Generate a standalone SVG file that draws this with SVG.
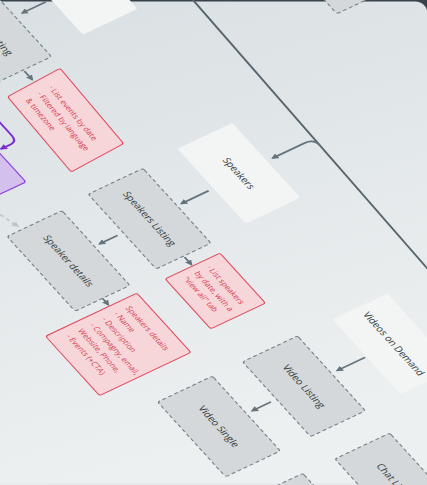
<svg xmlns="http://www.w3.org/2000/svg" width="427" height="485" viewBox="0 0 427 485">
<defs>
<linearGradient id="bg" x1="0" y1="0" x2="0.25" y2="1">
<stop offset="0" stop-color="#d9e0e3"/>
<stop offset="1" stop-color="#edf0f1"/>
</linearGradient>
<marker id="ah" viewBox="0 0 10 10" refX="8" refY="5" markerWidth="3.6" markerHeight="3.6" orient="auto" markerUnits="strokeWidth">
<path d="M0,0 L10,5 L0,10 Z" fill="#65737b"/>
</marker>
<marker id="ahp" viewBox="0 0 10 10" refX="8" refY="5" markerWidth="3.4" markerHeight="3.4" orient="auto" markerUnits="strokeWidth">
<path d="M0,0 L10,5 L0,10 Z" fill="#7b2fd3"/>
</marker>
<marker id="ahl" viewBox="0 0 10 10" refX="8" refY="5" markerWidth="3.6" markerHeight="3.6" orient="auto" markerUnits="strokeWidth">
<path d="M0,0 L10,5 L0,10 Z" fill="#bcc6cb"/>
</marker>
<style>
.gbox{fill:#d4d8da;stroke:#74818a;stroke-width:1.5;stroke-dasharray:5 3.5}
.wbox{fill:#f3f4f4}
.pbox{fill:#d3c0ec;stroke:#8e43d8;stroke-width:1.6}
.note{fill:#f7d6da;stroke:#e04a5f;stroke-width:1.4}
.lbl{font-family:"Open Sans","DejaVu Sans",sans-serif;font-size:12.8px;fill:#343c41;text-anchor:middle;dominant-baseline:central}
.nt{font-family:"Open Sans","DejaVu Sans",sans-serif;font-size:10.3px;fill:#d63a4f;dominant-baseline:central}
.con{fill:none;stroke:#65737b;stroke-width:2.4;marker-end:url(#ah)}
.spine{fill:none;stroke:#56646c;stroke-width:2.6}
.pcon{fill:none;stroke:#7b2fd3;stroke-width:2.6;marker-end:url(#ahp)}
.fcon{fill:none;stroke:#bfc8cc;stroke-width:2.4;stroke-dasharray:5 4;marker-end:url(#ahl)}
</style>
</defs>
<rect width="427" height="485" fill="#e6ecee"/>
<rect width="427" height="14" fill="#37424a"/>
<path d="M-10,1.6 H415.5 A12,12 0 0 1 427.5,13.6 V471 A12,12 0 0 1 415.5,483 H-10 Z" fill="url(#bg)"/>
<g transform="matrix(0.5 0.55 -0.7024 0.332 0 0)">
<g id="connectors">
<path class="spine" d="M100,-192.5 L720,-180"/>
<path class="con" d="M378,-187 Q365,-187 365,-174 L365,-128"/>
<path class="con" d="M30,-44 L30,-10"/>
<path class="con" d="M105,40 L121,40"/>
<path class="con" d="M368,-35 L368,4"/>
<path class="con" d="M370,96 L370,122"/>
<path class="con" d="M438,49 L452,49"/>
<path class="con" d="M441,168 L453,168"/>
<path class="con" d="M674,-40 L674,0"/>
<path class="con" d="M674,94 L674,121"/>
<path class="pcon" d="M100,111 L180,111 Q190,111 190,121 L190,134"/>
<path class="fcon" d="M247,201 L299,187"/>
</g>
<g id="top-dashed"><rect class="gbox" x="84" y="-401" width="136" height="78" rx="3"/></g>
<g id="events-parent"><rect class="wbox" x="-42" y="-129" width="136" height="78" rx="3"/></g>
<g id="events-listing"><rect class="gbox" x="-33" y="0" width="136" height="78" rx="3"/><text class="lbl" x="35" y="39">Events Listing</text></g>
<g id="note-events" transform="translate(123,2) matrix(1,0.036,0.058,1,0,0)">
<rect class="note" x="0" y="0" width="134" height="78" rx="3"/>
<text class="nt" x="16" y="25">· List events by date</text>
<text class="nt" x="16" y="42">· Filtered by language</text>
<text class="nt" x="16" y="59">&amp; timezone</text>
</g>
<g id="purple-node"><rect class="pbox" x="111" y="139" width="136" height="78" rx="3"/></g>
<g id="speakers"><rect class="wbox" x="296" y="-120" width="136" height="78" rx="3"/><text class="lbl" x="364" y="-81">Speakers</text></g>
<g id="speakers-listing"><rect class="gbox" x="300" y="10" width="136" height="78" rx="3"/><text class="lbl" x="368" y="49">Speakers Listing</text></g>
<g id="speaker-details"><rect class="gbox" x="305" y="129" width="136" height="78" rx="3"/><text class="lbl" x="373" y="168">Speaker details</text></g>
<g id="note-speakers-listing">
<rect class="note" x="454" y="10" width="91" height="78" rx="3"/>
<text class="nt" x="464" y="33">· List speakers</text>
<text class="nt" x="464" y="50">by date, with a</text>
<text class="nt" x="464" y="66">"view all" tab</text>
</g>
<g id="note-speaker-details">
<rect class="note" x="455" y="129" width="108" height="130" rx="3"/>
<text class="nt" x="467" y="150">Speakers details</text>
<text class="nt" x="467" y="167">- Name</text>
<text class="nt" x="467" y="184">- Description</text>
<text class="nt" x="467" y="201">- Compagny, email,</text>
<text class="nt" x="467" y="218">Website, Phone,</text>
<text class="nt" x="467" y="235">- Events (+CTA)</text>
</g>
<g id="videos-on-demand"><rect class="wbox" x="606" y="-120" width="136" height="78" rx="3"/><text class="lbl" x="674" y="-81">Videos on Demand</text></g>
<g id="video-listing"><rect class="gbox" x="606" y="8" width="136" height="78" rx="3"/><text class="lbl" x="674" y="47">Video Listing</text></g>
<g id="video-single"><rect class="gbox" x="606" y="129" width="136" height="78" rx="3"/><text class="lbl" x="674" y="168">Video Single</text></g>
<g id="chat"><rect class="gbox" x="785" y="4" width="136" height="78" rx="3"/><text class="lbl" x="853" y="43">Chat Listing</text></g>
<g id="bottom-box"><rect class="gbox" x="784" y="127" width="136" height="78" rx="3"/></g>
</g>
</svg>
